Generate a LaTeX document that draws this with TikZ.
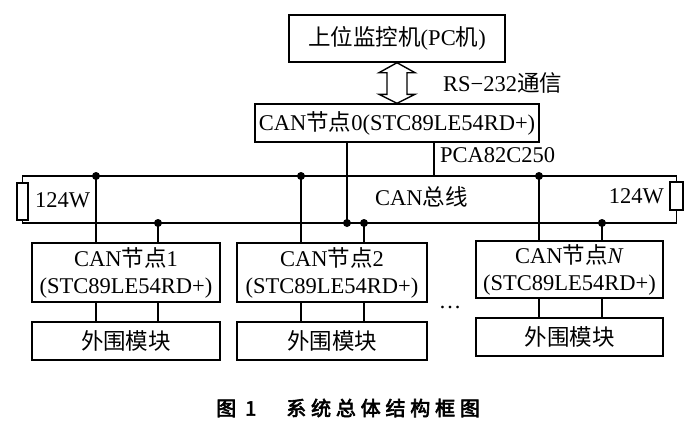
\documentclass[tikz,border=0pt]{standalone}
\usepackage{fontspec}
\usetikzlibrary{calc}
\setmainfont{Liberation Serif}
\newfontfamily\cjk{Noto Sans CJK SC}
\newfontfamily\cjkcap{Noto Sans CJK SC}[FakeBold=3,LetterSpace=24]
\newcommand\zh[1]{{\cjk #1}}
\newcommand\bodyfont{\fontsize{22.5}{27}\selectfont}
\begin{document}
\begin{tikzpicture}[x=1pt,y=-1pt,
  box/.style={draw, line width=1.4pt, inner sep=0pt, align=center, font=\bodyfont},
  res/.style={draw, line width=1.4pt, inner sep=0pt, minimum width=11pt},
  wire/.style={line width=1.4pt},
  lbl/.style={inner sep=0pt, font=\bodyfont, anchor=west},
  dotc/.style={fill=black}]
\useasboundingbox (0,0) rectangle (697,431);
% top
\node[box, minimum width=216pt, minimum height=47pt] (pc) at (397,38.5) {\zh{上位监控机}(PC\zh{机})};
\node[box, minimum width=284pt, minimum height=38pt] (n0) at (397,123) {CAN\zh{节点}0(STC89LE54RD+)};
% double arrow
\coordinate (at) at (pc.south);
\coordinate (ab) at (n0.north);
\draw[wire, line join=miter] (at) -- ($(at)+(18,10)$) -- ($(at)+(10,10)$) -- ($(ab)+(10,-9)$) -- ($(ab)+(18,-9)$)
  -- (ab) -- ($(ab)+(-18,-9)$) -- ($(ab)+(-10,-9)$) -- ($(at)+(-10,10)$) -- ($(at)+(-18,10)$) -- cycle;
\node[lbl] (rs) at (443,83) {RS−232\zh{通信}};
% resistors
\node[res, minimum height=37pt] (rl) at (22.5,201.5) {};
\node[res, minimum width=13pt, minimum height=28pt] (rr) at (676.5,196) {};
\coordinate (tl) at (22.5,176);
\coordinate (trr) at (676.5,176);
\coordinate (bl) at (22.5,223);
\coordinate (brr) at (676.5,223);
\draw[wire] (rl.north) -- (tl) -- (trr) -- (rr.north);
\draw[wire] (rl.south) -- (bl) -- (brr) -- (rr.south);
\node[lbl] (rlab) at (35,200) {124W};
\node[lbl, anchor=east] (rrlab) at (664,196) {124W};
\node[lbl] (bus) at (375,197) {CAN\zh{总线}};
\node[lbl] (pca) at (440,155) {PCA82C250};
% node 0 links
\coordinate (b0) at (347,223);
\coordinate (t0) at (434,176);
\draw[wire] (n0.south -| b0) -- (b0);
\draw[wire] (n0.south -| t0) -- (t0);
\fill[dotc] (b0) circle (4pt);
% nodes
\node[box, minimum width=188pt, minimum height=59pt] (n1) at (126,272.5) {CAN\zh{节点}1\\(STC89LE54RD+)};
\node[box, minimum width=190pt, minimum height=59pt] (n2) at (332,272.5) {CAN\zh{节点}2\\(STC89LE54RD+)};
\node[box, minimum width=187pt, minimum height=57pt] (nN) at (569.5,269.5) {CAN\zh{节点}\textit{N}\\(STC89LE54RD+)};
\node[box, minimum width=188pt, minimum height=38pt] (p1) at (126,341) {\zh{外围模块}};
\node[box, minimum width=190pt, minimum height=38pt] (p2) at (332,341) {\zh{外围模块}};
\node[box, minimum width=187pt, minimum height=38pt] (pN) at (569.5,337) {\zh{外围模块}};
\node[lbl, anchor=center] (dots) at (450,307) {…};
% bus taps
\coordinate (t1) at (96,176);
\coordinate (b1) at (158,223);
\coordinate (t2) at (301,176);
\coordinate (b2) at (364,223);
\coordinate (t3) at (539,176);
\coordinate (b3) at (602,223);
\foreach \t/\b/\n/\p in {t1/b1/n1/p1, t2/b2/n2/p2, t3/b3/nN/pN}{
  \draw[wire] (\t) -- (\t |- \n.north);
  \draw[wire] (\b) -- (\b |- \n.north);
  \draw[wire] (\t |- \n.south) -- (\t |- \p.north);
  \draw[wire] (\b |- \n.south) -- (\b |- \p.north);
  \fill[dotc] (\t) circle (4pt);
  \fill[dotc] (\b) circle (4pt);
}
% caption
\node[inner sep=0pt, anchor=west, font=\fontsize{20}{24}\selectfont] (cap) at (216,408) {\cjkcap 图\hspace{9pt}1\hspace{30pt}系统总体结构框图};
\end{tikzpicture}
\end{document}
